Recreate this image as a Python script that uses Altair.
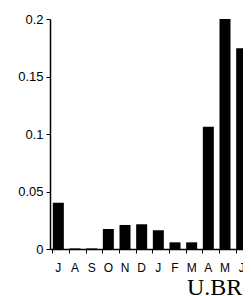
import altair as alt
import pandas as pd

months = ["J", "A", "S", "O", "N", "D", "J ", "F", "M", "A ", "M ", "J  "]
values = [0.0403, 0.0005, 0.0005, 0.0174, 0.0209, 0.0215, 0.0163, 0.0058, 0.0058, 0.1063, 0.2, 0.1745]
y_ticks = [0, 0.05, 0.1, 0.15, 0.2]
label_text = ["U.BR"]

df = pd.DataFrame({"month": months, "value": values})

bars = alt.Chart(df).mark_bar(color="black").encode(
    x=alt.X("month:N", sort=months,
            scale=alt.Scale(paddingInner=0.34, paddingOuter=0.17, range=[0, 200]),
            axis=alt.Axis(title=None, labelAngle=0, bandPosition=0, tickSize=4,
                          labelFontSize=12, labelFont="Liberation Sans", labelColor="black",
                          labelPadding=9, domainColor="black", tickColor="black",
                          domainWidth=1.5, labelExpr="trim(datum.label)")),
    y=alt.Y("value:Q", scale=alt.Scale(domain=[0, 0.2]),
            axis=alt.Axis(title=None, values=y_ticks, grid=False, tickSize=4,
                          labelFontSize=13, labelFont="Liberation Sans", labelColor="black",
                          labelPadding=3, domainColor="black", tickColor="black",
                          domainWidth=1.5, labelExpr="datum.value == 0 ? '0' : format(datum.value, '')")),
)

txt = alt.Chart(pd.DataFrame({"t": label_text})).mark_text(
    font="Liberation Serif", fontSize=24, align="left", baseline="alphabetic", color="black"
).encode(text="t:N", x=alt.value(137), y=alt.value(276))

chart = (bars + txt).properties(
    width=185, height=230,
    autosize=alt.AutoSizeParams(type="none"),
    padding={"left": 42, "top": 11, "right": 8, "bottom": 48},
).configure_view(stroke=None).configure_axis(labelOverlap=False)

chart.save("out.html", embed_options={"renderer": "svg", "actions": False})
